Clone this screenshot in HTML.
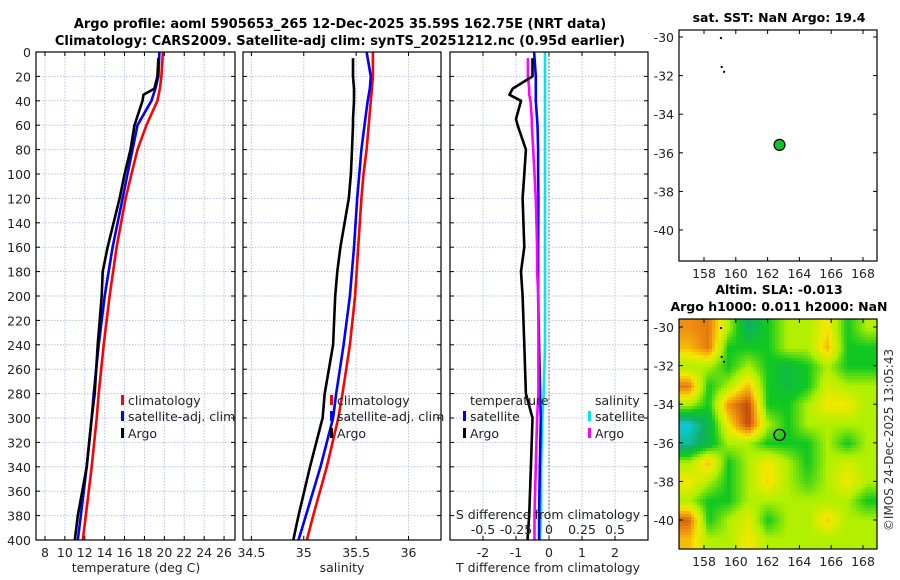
<!DOCTYPE html>
<html><head><meta charset="utf-8"><style>
body{margin:0;background:#fff;}
svg{display:block;font-family:"DejaVu Sans","Liberation Sans",sans-serif;}
</style></head><body>
<svg id="c" width="900" height="580" viewBox="0 0 900 580" xmlns="http://www.w3.org/2000/svg">
<defs>
<clipPath id="m2clip"><rect x="679" y="319" width="198" height="230"/></clipPath>
</defs>
<text x="340" y="28" text-anchor="middle" font-size="13" font-weight="bold">Argo profile: aoml 5905653_265 12-Dec-2025 35.59S 162.75E (NRT data)</text>
<text x="340" y="45" text-anchor="middle" font-size="13" font-weight="bold">Climatology: CARS2009. Satellite-adj clim: synTS_20251212.nc (0.95d earlier)</text>
<text x="779" y="22" text-anchor="middle" font-size="12.5" font-weight="bold">sat. SST: NaN Argo: 19.4</text>
<text x="779" y="294" text-anchor="middle" font-size="12.5" font-weight="bold">Altim. SLA: -0.013</text>
<text x="779" y="311" text-anchor="middle" font-size="12.5" font-weight="bold">Argo h1000: 0.011 h2000: NaN</text>
<text transform="translate(893,440) rotate(-90)" text-anchor="middle" font-size="12" fill="#333">©IMOS 24-Dec-2025 13:05:43</text>
</svg>
<script>
// ---- data ----
const depths=[0,20,30,40,60,80,100,120,160,200,240,280,300,340,380,400];
const tempClim=[19.85,19.7,19.55,19.3,18.2,17.3,16.7,16.1,15.2,14.5,13.9,13.4,13.2,12.7,12.1,11.8];
const tempSat=[19.5,19.4,19.1,18.7,17.3,16.8,16.3,15.8,14.8,14.0,13.4,12.9,12.7,12.2,11.6,11.3];
const argoDepths=[5,20,30,35,40,55,60,80,100,120,160,180,200,240,280,300,340,380,400];
const tempArgo=[19.4,19.3,19.0,17.9,17.8,17.2,17.0,16.6,16.0,15.5,14.3,13.8,13.7,13.3,13.0,12.7,12.2,11.3,11.0];
const salClim=[35.66,35.66,35.65,35.64,35.62,35.60,35.57,35.55,35.52,35.49,35.44,35.37,35.33,35.22,35.09,35.03];
const salSat=[35.60,35.64,35.63,35.61,35.58,35.55,35.53,35.51,35.48,35.44,35.38,35.31,35.28,35.16,35.02,34.95];
const salArgo=[35.47,35.47,35.48,35.48,35.48,35.47,35.47,35.46,35.45,35.43,35.35,35.32,35.30,35.28,35.2,35.18,35.06,34.95,34.9];
const dTsat=[-0.45,-0.4,-0.4,-0.4,-0.35,-0.33,-0.33,-0.32,-0.33,-0.33,-0.3,-0.27,-0.25,-0.28,-0.3,-0.3];
const dSsat=[-0.03,-0.03,-0.03,-0.03,-0.03,-0.03,-0.03,-0.03,-0.03,-0.03,-0.03,-0.04,-0.05,-0.06,-0.06,-0.07];
const dTargo=[-0.5,-0.5,-1.1,-1.2,-0.85,-1.0,-0.95,-0.7,-0.75,-0.8,-0.75,-0.85,-0.8,-0.75,-0.7,-0.5,-0.55,-0.6,-0.65];
const dSargo=[-0.16,-0.16,-0.15,-0.15,-0.14,-0.13,-0.13,-0.12,-0.11,-0.1,-0.09,-0.09,-0.08,-0.08,-0.08,-0.09,-0.1,-0.11,-0.11];
const tempTicks=[8,10,12,14,16,18,20,22,24,26];
const salTicks=[34.5,35,35.5,36];
const salTickLabels=["34.5","35","35.5","36"];
const dTTicks=[-2,-1,0,1,2];
const dSTicks=[-0.5,-0.25,0,0.25,0.5];
const depthTicks=[0,20,40,60,80,100,120,140,160,180,200,220,240,260,280,300,320,340,360,380,400];
const lonTicks=[158,160,162,164,166,168];
const latTicks=[-30,-32,-34,-36,-38,-40];
const argoLon=162.75, argoLat=-35.59;
const slaGrid=[
[6,6.3,4,2,3,4,4,5,3,4],
[5.5,6.3,3,3,3,4,4,5.5,3,3],
[4,4,3,4,3,2.5,3,4,3,3],
[6.3,3,4,5.5,3,2.5,3,4.5,4,4],
[4,3,6,7,3,3,4,5,5,4],
[1,2.3,5,7,4,3,4,4,4,4],
[1.5,2.5,4,4,3,3,3,4,3,4],
[4,5.5,3,4,5,4,3,4,4.5,4],
[5,4,3,4,5.2,4,3.3,4,5,4],
[4,3,3,4,4,4,4,4,4,3],
[6.6,3,4,4.7,3,4,4,5.3,4,4],
[5.5,4,4,5,4,4,4,4,4,4]];
// ---- helpers ----
const svg=document.getElementById('c');const NS='http://www.w3.org/2000/svg';
function mk(t,a,p){const e=document.createElementNS(NS,t);for(const k in a)e.setAttribute(k,a[k]);(p||svg).appendChild(e);return e;}
const Y0=52,Y1=540;
const yD=d=>Y0+(d/400)*(Y1-Y0);
const panels=[{x0:36,x1:235,lo:7.1,hi:27.1},{x0:243,x1:441,lo:34.42,hi:36.31},{x0:450,x1:648,lo:-3,hi:3}];
const sx=(p,v)=>p.x0+(v-p.lo)/(p.hi-p.lo)*(p.x1-p.x0);
const sS=v=>sx(panels[2],v*4);
function grid(p,ticks,name){
  const g=mk('g',{});
  
  
  ticks.forEach(t=>mk('line',{x1:sx(p,t),x2:sx(p,t),y1:Y0,y2:Y1,stroke:'#b8c4e8','stroke-dasharray':'1.5,1.5','stroke-width':1},g));
  depthTicks.forEach(d=>{if(d>0&&d<400)mk('line',{x1:p.x0,x2:p.x1,y1:yD(d),y2:yD(d),stroke:'#b8c4e8','stroke-dasharray':'1.5,1.5','stroke-width':1},g);
    mk('line',{x1:p.x0,x2:p.x0+4,y1:yD(d),y2:yD(d),stroke:'#000'},g);mk('line',{x1:p.x1-4,x2:p.x1,y1:yD(d),y2:yD(d),stroke:'#000'},g);});
  ticks.forEach(t=>{mk('line',{x1:sx(p,t),x2:sx(p,t),y1:Y1,y2:Y1-4,stroke:'#000'},g);mk('line',{x1:sx(p,t),x2:sx(p,t),y1:Y0,y2:Y0+4,stroke:'#000'},g);});
}
function frame(p,name){const r=mk('rect',{x:p.x0,y:Y0,width:p.x1-p.x0,height:Y1-Y0,fill:'none',stroke:'#000','stroke-width':1.2});
  
  }
function line(xs,ds,color,name,w){
  const d=xs.map((v,i)=>(i?'L':'M')+v.toFixed(1)+','+yD(ds[i]).toFixed(1)).join('');
  const e=mk('path',{d:d,fill:'none',stroke:color,'stroke-width':w||2.6,'stroke-linejoin':'round'});
  
  
}
function text(x,y,s,opt,name){const e=mk('text',Object.assign({x:x,y:y,'font-size':12.5,fill:'#222'},opt||{}));e.textContent=s;
  
  return e;}
const P1=panels[0],P2=panels[1],P3=panels[2];
grid(P1,tempTicks,'temperature');grid(P2,salTicks,'salinity');grid(P3,dTTicks,'difference');
depthTicks.forEach(d=>text(31,yD(d)+5,String(d),{'text-anchor':'end'},'depth-tick-label'));
tempTicks.forEach(t=>text(sx(P1,t),557,String(t),{'text-anchor':'middle'},'temperature-tick-label'));
text(136,572,'temperature (deg C)',{'text-anchor':'middle'},'temperature-axis-title');
line(tempClim.map(v=>sx(P1,v)),depths,'#ff0000','temp-climatology-line');
line(tempSat.map(v=>sx(P1,v)),depths,'#0000ff','temp-satellite-line');
line(tempArgo.map(v=>sx(P1,v)),argoDepths,'#000','temp-argo-line');
salTicks.forEach((t,i)=>text(sx(P2,t),557,salTickLabels[i],{'text-anchor':'middle'},'salinity-tick-label'));
text(342,572,'salinity',{'text-anchor':'middle'},'salinity-axis-title');
line(salClim.map(v=>sx(P2,v)),depths,'#ff0000','sal-climatology-line');
line(salSat.map(v=>sx(P2,v)),depths,'#0000ff','sal-satellite-line');
line(salArgo.map(v=>sx(P2,v)),argoDepths,'#000','sal-argo-line');
{const z=mk('line',{x1:sx(P3,0),x2:sx(P3,0),y1:Y0,y2:Y1,stroke:'#555','stroke-dasharray':'1.5,2'});
 
 }
line(dSsat.map(sS),depths,'#00e5ee','sal-satellite-diff-line');
line(dTsat.map(v=>sx(P3,v)),depths,'#0000ff','temp-satellite-diff-line');
line(dSargo.map(sS),argoDepths,'#ff00ff','sal-argo-diff-line');
line(dTargo.map(v=>sx(P3,v)),argoDepths,'#000','temp-argo-diff-line');
dTTicks.forEach(t=>text(sx(P3,t),557,String(t),{'text-anchor':'middle'},'tdiff-tick-label'));
text(548,572,'T difference from climatology',{'text-anchor':'middle'},'tdiff-axis-title');
text(548,519,'S difference from climatology',{'text-anchor':'middle'},'sdiff-axis-title');
dSTicks.forEach(t=>text(sS(t),534,String(t),{'text-anchor':'middle'},'sdiff-tick-label'));
frame(P1,'temperature-panel');frame(P2,'salinity-panel');frame(P3,'difference-panel');
function leg(x,y,c,s,name){const r=mk('rect',{x:x,y:y-10,width:3,height:10,fill:c});
  
  
  text(x+7,y,s,{},name);}
leg(121,405,'#ff0000','climatology','legend-climatology');leg(121,421,'#0000ff','satellite-adj. clim','legend-satellite');leg(121,438,'#000','Argo','legend-argo');
leg(330,405,'#ff0000','climatology','legend2-climatology');leg(330,421,'#0000ff','satellite-adj. clim','legend2-satellite');leg(330,438,'#000','Argo','legend2-argo');
text(470,405,'temperature',{},'legend-temperature-header');text(595,405,'salinity',{},'legend-salinity-header');
leg(463,421,'#0000ff','satellite','legend-t-satellite');leg(463,438,'#000','Argo','legend-t-argo');
leg(588,421,'#00e5ee','satellite','legend-s-satellite');leg(588,438,'#ff00ff','Argo','legend-s-argo');
const MX0=679,MX1=877;
const lx=lon=>704+(lon-158)*15.9;
function mapAxes(top,bot,lat30,name){
  const ly=lat=>lat30+(-30-lat)*19.3;
  const r=mk('rect',{x:MX0,y:top,width:MX1-MX0,height:bot-top,fill:'none',stroke:'#000','stroke-width':1.2});
  
  
  latTicks.forEach(l=>{text(674,ly(l)+5,String(l),{'text-anchor':'end'},name+'-lat-label');
    mk('line',{x1:MX0,x2:MX0+4,y1:ly(l),y2:ly(l),stroke:'#000'});mk('line',{x1:MX1-4,x2:MX1,y1:ly(l),y2:ly(l),stroke:'#000'});});
  lonTicks.forEach(l=>{text(lx(l),bot+17,String(l),{'text-anchor':'middle'},name+'-lon-label');
    mk('line',{x1:lx(l),x2:lx(l),y1:bot,y2:bot-4,stroke:'#000'});mk('line',{x1:lx(l),x2:lx(l),y1:top,y2:top+4,stroke:'#000'});});
  return ly;
}
const pal=['#0a78f0','#10c8d8','#10b060','#10c820','#b0f000','#f4e800','#f09010','#c04808'];
function col(v){const i=Math.max(0,Math.min(6.999,v));const a=Math.floor(i),f=i-a;
  const c1=pal[a],c2=pal[a+1];const h=(c,k)=>parseInt(c.substr(1+2*k,2),16);
  return 'rgb('+[0,1,2].map(k=>Math.round(h(c1,k)*(1-f)+h(c2,k)*f)).join(',')+')';}
function sample(gx,gy){const R=slaGrid.length,C=slaGrid[0].length;
  const cx=Math.max(0,Math.min(C-1,gx)),cy=Math.max(0,Math.min(R-1,gy));
  const c0=Math.min(C-2,Math.floor(cx)),r0=Math.min(R-2,Math.floor(cy));
  const fx=cx-c0,fy=cy-r0;
  const a=slaGrid[r0][c0],b=slaGrid[r0][c0+1],c=slaGrid[r0+1][c0],d=slaGrid[r0+1][c0+1];
  return a*(1-fx)*(1-fy)+b*fx*(1-fy)+c*(1-fx)*fy+d*fx*fy;}
const hg=mk('g',{'clip-path':'url(#m2clip)'});


const cw=198/slaGrid[0].length,ch=230/slaGrid.length,px=3;
for(let y=319;y<549;y+=px){for(let x=MX0;x<MX1;x+=px){
  const v=sample((x+px/2-MX0)/cw-0.5,(y+px/2-319)/ch-0.5);
  const e=mk('rect',{x:x,y:y,width:px+0.5,height:px+0.5,fill:col(v)},hg);
  
  
}}
const ly1=mapAxes(30,261,37,'sst-map');
const ly2=mapAxes(319,549,327,'sla-map');
[[159,-30],[159.05,-31.5],[159.2,-31.75]].forEach(p=>{mk('rect',{x:lx(p[0]),y:ly1(p[1]),width:2,height:2,fill:'#000'});mk('rect',{x:lx(p[0]),y:ly2(p[1]),width:2,height:2,fill:'#000'});});
{const a=mk('circle',{cx:lx(argoLon),cy:ly1(argoLat),r:5.5,fill:'#11c02a',stroke:'#000','stroke-width':1.2});
 
 
 const b=mk('circle',{cx:lx(argoLon),cy:ly2(argoLat),r:5.5,fill:'none',stroke:'#000','stroke-width':1.3});
 
 }
</script>
</body></html>
